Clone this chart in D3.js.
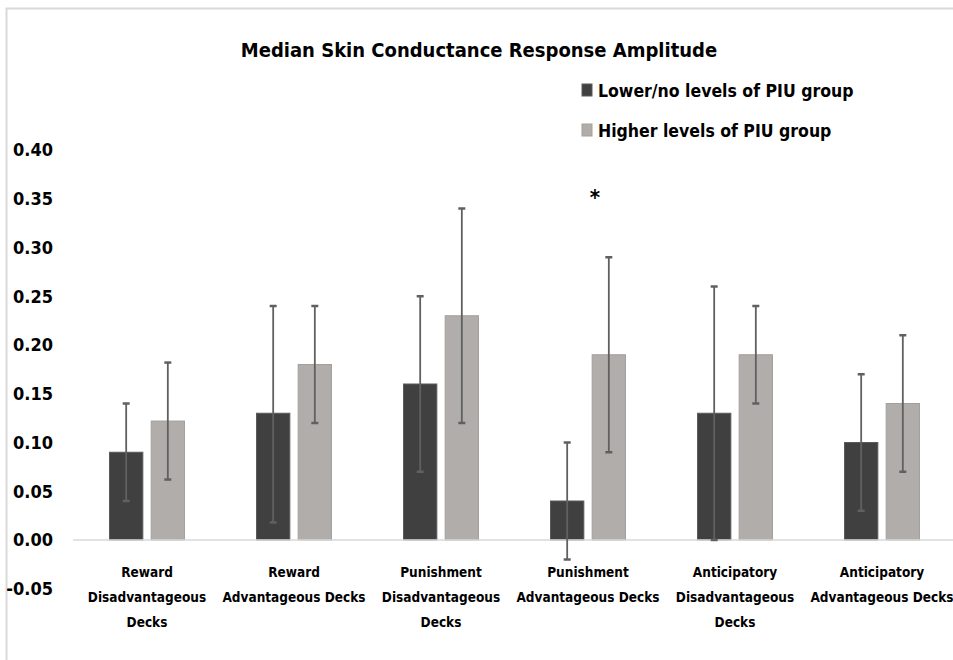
<!DOCTYPE html>
<html>
<head>
  <script src="https://d3js.org/d3.v7.min.js"></script>
  <style>
    body { margin: 0; background: #fff; }
    svg text { font-family: "DejaVu Sans Condensed", "DejaVu Sans", sans-serif; font-stretch: condensed; font-weight: bold; }
  </style>
</head>
<body>
  <div id="chart"></div>
  <script>
    // Data
    const categories = [
      ["Reward", "Disadvantageous", "Decks"],
      ["Reward", "Advantageous Decks"],
      ["Punishment", "Disadvantageous", "Decks"],
      ["Punishment", "Advantageous Decks"],
      ["Anticipatory", "Disadvantageous", "Decks"],
      ["Anticipatory", "Advantageous Decks"]
    ];
    const seriesNames = ["Lower/no levels of PIU group", "Higher levels of PIU group"];
    const lowerValues = [0.09, 0.13, 0.16, 0.04, 0.13, 0.10];
    const lowerErrLow = [0.04, 0.018, 0.07, -0.02, 0.00, 0.03];
    const lowerErrHigh = [0.14, 0.24, 0.25, 0.10, 0.26, 0.17];
    const higherValues = [0.122, 0.18, 0.23, 0.19, 0.19, 0.14];
    const higherErrLow = [0.062, 0.12, 0.12, 0.09, 0.14, 0.07];
    const higherErrHigh = [0.182, 0.24, 0.34, 0.29, 0.24, 0.21];
    const yTicks = [-0.05, 0, 0.05, 0.10, 0.15, 0.20, 0.25, 0.30, 0.35, 0.40];
    const significant = [3]; // category index marked with *

    const colors = ["#404040", "#b0adab"];
    const W = 953, H = 660;

    const svg = d3.select("#chart").append("svg")
      .attr("width", W).attr("height", H);

    // outer frame (top and left only visible)
    svg.append("path")
      .attr("d", `M6.5,${H} V8.5 H${W}`)
      .attr("fill", "none")
      .attr("stroke", "#d9d9d9")
      .attr("stroke-width", 2);

    const y = d3.scaleLinear().domain([-0.05, 0.40]).range([588.75, 150]);

    const x0 = d3.scaleBand()
      .domain(d3.range(categories.length))
      .range([73.5, 955.5])
      .paddingInner(0.49)
      .paddingOuter(0.245);

    const x1 = d3.scaleBand()
      .domain([0, 1])
      .range([0, x0.bandwidth()])
      .paddingInner(0.2);

    // rows for bars
    const rows = [];
    categories.forEach((c, i) => {
      rows.push({ cat: i, s: 0, v: lowerValues[i], lo: lowerErrLow[i], hi: lowerErrHigh[i] });
      rows.push({ cat: i, s: 1, v: higherValues[i], lo: higherErrLow[i], hi: higherErrHigh[i] });
    });

    // y axis labels
    const yAxis = svg.append("g")
      .attr("transform", "translate(53,0)")
      .call(d3.axisLeft(y).tickValues(yTicks).tickFormat(d => d.toFixed(2)).tickSize(0).tickPadding(0));
    yAxis.select(".domain").remove();
    yAxis.selectAll("text")
      .attr("font-size", 18)
      .attr("fill", "#000")
      .attr("font-family", null);

    // bars
    svg.selectAll(".bar")
      .data(rows)
      .enter()
      .append("rect")
      .attr("class", "bar")
      .attr("x", d => x0(d.cat) + x1(d.s))
      .attr("y", d => y(Math.max(0, d.v)))
      .attr("width", x1.bandwidth())
      .attr("height", d => Math.abs(y(d.v) - y(0)))
      .attr("fill", d => colors[d.s])
      .attr("stroke", d => d.s === 0 ? "#5a5a5a" : "#a29f9d")
      .attr("stroke-width", 1);

    // baseline
    svg.append("line")
      .attr("x1", 73).attr("x2", W)
      .attr("y1", y(0)).attr("y2", y(0))
      .attr("stroke", "#d9d9d9")
      .attr("stroke-width", 1.5);

    // error bars
    const err = svg.selectAll(".err")
      .data(rows)
      .enter()
      .append("g")
      .attr("class", "err")
      .attr("transform", d => `translate(${x0(d.cat) + x1(d.s) + x1.bandwidth() / 2},0)`)
      .attr("stroke", "#606060");
    err.append("line")
      .attr("y1", d => y(d.lo)).attr("y2", d => y(d.hi))
      .attr("stroke-width", 1.8);
    err.append("line")
      .attr("x1", -3.5).attr("x2", 3.5)
      .attr("y1", d => y(d.hi)).attr("y2", d => y(d.hi))
      .attr("stroke-width", 2.5);
    err.append("line")
      .attr("x1", -3.5).attr("x2", 3.5)
      .attr("y1", d => y(d.lo)).attr("y2", d => y(d.lo))
      .attr("stroke-width", 2.5);

    // category labels
    const xl = svg.selectAll(".xlab")
      .data(categories)
      .enter()
      .append("text")
      .attr("class", "xlab")
      .attr("text-anchor", "middle")
      .attr("font-size", 13.5)
      .attr("fill", "#000");
    xl.selectAll("tspan")
      .data((d, i) => d.map(t => ({ t, i })))
      .enter()
      .append("tspan")
      .attr("x", d => x0(d.i) + x0.bandwidth() / 2)
      .attr("y", (d, j) => 577 + j * 25)
      .text(d => d.t);

    // significance marker
    svg.selectAll(".sig")
      .data(significant)
      .enter()
      .append("text")
      .attr("class", "sig")
      .attr("x", d => x0(d) + x0.bandwidth() / 2 + 7)
      .attr("y", 205)
      .attr("text-anchor", "middle")
      .attr("font-size", 22)
      .attr("font-weight", "normal")
      .attr("fill", "#000")
      .text("*");

    // title
    svg.append("text")
      .attr("x", 479)
      .attr("y", 57)
      .attr("text-anchor", "middle")
      .attr("font-size", 20)
      .attr("fill", "#000")
      .text("Median Skin Conductance Response Amplitude");

    // legend
    const leg = svg.selectAll(".leg")
      .data(seriesNames)
      .enter()
      .append("g")
      .attr("class", "leg")
      .attr("transform", (d, i) => `translate(582,${84 + i * 40})`);
    leg.append("rect")
      .attr("width", 10).attr("height", 12)
      .attr("fill", (d, i) => colors[i])
      .attr("stroke", (d, i) => i === 0 ? "#5a5a5a" : "#a29f9d");
    leg.append("text")
      .attr("x", 16)
      .attr("y", 13)
      .attr("font-size", 17.5)
      .attr("fill", "#000")
      .text(d => d);
  </script>
</body>
</html>
